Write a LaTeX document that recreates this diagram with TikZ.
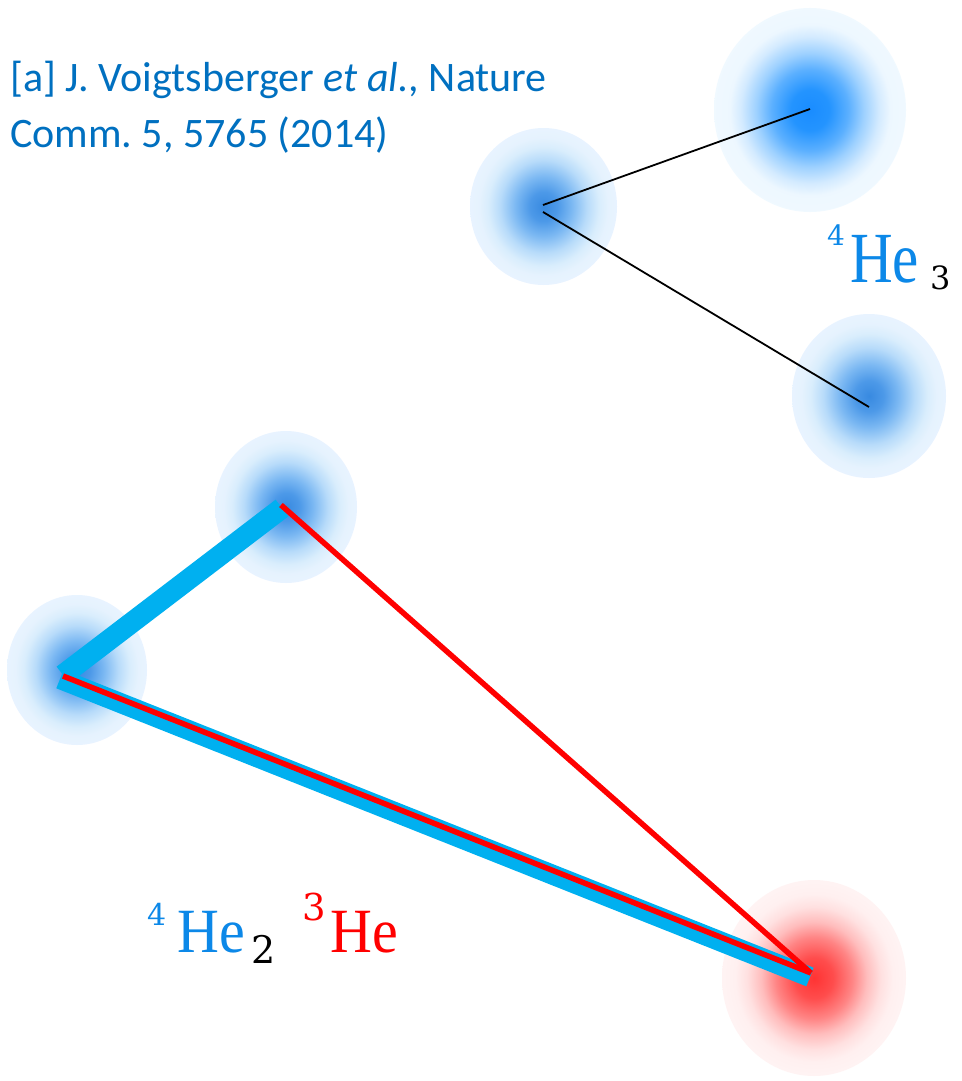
\documentclass[tikz,border=0pt]{standalone}
\usepackage{fontspec}
\setmainfont{Carlito}
\newfontfamily\labelfont[FakeStretch=0.82]{Liberation Serif}
\newfontfamily\labelfontb[FakeStretch=0.92]{Liberation Serif}
\newfontfamily\digitfont{DejaVu Serif}
\usetikzlibrary{shapes.geometric}
\definecolor{citeblue}{RGB}{0,112,192}
\definecolor{heblue}{RGB}{12,136,232}
\definecolor{barblue}{RGB}{0,176,240}
\definecolor{bondred}{RGB}{255,0,0}
\pgfdeclareradialshading{atomstrong}{\pgfpoint{0bp}{0bp}}{rgb(0bp)=(0.1,0.55,1); rgb(5bp)=(0.14,0.58,1); rgb(10bp)=(0.36,0.69,1); rgb(14bp)=(0.62,0.82,1); rgb(18bp)=(0.83,0.92,1); rgb(21bp)=(0.93,0.97,1); rgb(25bp)=(0.94,0.975,1); rgb(50bp)=(0.94,0.975,1)}
\pgfdeclareradialshading{atomblue}{\pgfpoint{0bp}{0bp}}{rgb(0bp)=(0.22,0.54,0.88); rgb(4.7bp)=(0.3,0.6,0.91); rgb(9.5bp)=(0.48,0.72,0.95); rgb(14.8bp)=(0.72,0.86,0.98); rgb(18.9bp)=(0.85,0.93,0.99); rgb(22bp)=(0.9,0.95,0.995); rgb(25bp)=(0.91,0.955,1); rgb(50bp)=(0.91,0.955,1)}
\pgfdeclareradialshading{atomred}{\pgfpoint{0bp}{0bp}}{rgb(0bp)=(1,0.2,0.2); rgb(5.2bp)=(1,0.3,0.3); rgb(10.4bp)=(1,0.52,0.52); rgb(14.3bp)=(1,0.74,0.74); rgb(18.2bp)=(1,0.88,0.88); rgb(21.4bp)=(1,0.94,0.94); rgb(25bp)=(1,0.955,0.955); rgb(50bp)=(1,0.955,0.955)}
\frenchspacing
\begin{document}
\begin{tikzpicture}[x=1pt,y=-1pt,
  atom/.style={ellipse, inner sep=0pt, draw=none},
  thinbond/.style={line width=1.8pt, black},
  bluebar/.style={line width=21pt, barblue},
  redbond/.style={line width=5.5pt, bondred},
  txt/.style={inner sep=0pt, anchor=base west}]
\useasboundingbox (0,0) rectangle (961,1081);
\fill[white] (0,0) rectangle (961,1081);
% atoms
\node[atom, shading=atomstrong, minimum width=192pt, minimum height=204pt] (a1) at (810,110) {};
\node[atom, shading=atomblue, minimum width=147pt, minimum height=157pt] (a2) at (543.5,206.5) {};
\node[atom, shading=atomblue, minimum width=154pt, minimum height=164pt] (a3) at (869,396) {};
\node[atom, shading=atomblue, minimum width=142pt, minimum height=152pt] (b1) at (286,507) {};
\node[atom, shading=atomblue, minimum width=140pt, minimum height=150pt] (b2) at (77,670) {};
\node[atom, shading=atomred, minimum width=184pt, minimum height=196pt] (c) at (814,978) {};
% bond end points
\coordinate (a1e) at (810,109);
\coordinate (a2u) at (543,205);
\coordinate (a2l) at (543,212);
\coordinate (a3e) at (869,407);
\coordinate (b1e) at (282,508);
\coordinate (b2u) at (63,675);
\coordinate (b2l) at (60,679);
\coordinate (ce) at (810,977);
\coordinate (b1r) at (281,505);
\coordinate (b2r) at (63,676);
\coordinate (cr) at (811,973);
% bonds
\draw[thinbond] (a2u) -- (a1e);
\draw[thinbond] (a2l) -- (a3e);
\draw[bluebar] (b2u) -- (b1e);
\draw[bluebar, line width=20pt] (b2l) -- (ce);
\draw[redbond] (b1r) -- (cr);
\draw[redbond] (b2r) -- (cr);
% citation
\node[txt, text=citeblue, font=\fontsize{42}{50}\selectfont] (cite1) at (10,92) {[a] J. Voigtsberger \textit{et al.}, Nature};
\node[txt, text=citeblue, font=\fontsize{42}{50}\selectfont] (cite2) at (10,147) {Comm. 5, 5765 (2014)};
% label He3
\node[txt, text=heblue, font=\digitfont\fontsize{28}{28}\selectfont] (t4) at (827,245) {4};
\node[txt, text=heblue, font=\labelfont\fontsize{72}{72}\selectfont] (the) at (850,282) {He};
\node[txt, text=black, font=\digitfont\fontsize{32}{32}\selectfont] (t3) at (930,289) {3};
% label He2 He
\node[txt, text=heblue, font=\digitfont\fontsize{30}{30}\selectfont] (b4) at (147,925) {4};
\node[txt, text=heblue, font=\labelfontb\fontsize{63}{63}\selectfont] (bhe) at (177,952) {He};
\node[txt, text=black, font=\digitfont\fontsize{38}{38}\selectfont] (b2s) at (251,963) {2};
\node[txt, text=bondred, font=\digitfont\fontsize{37}{37}\selectfont] (r3) at (302,920) {3};
\node[txt, text=bondred, font=\labelfontb\fontsize{63}{63}\selectfont] (rhe) at (330,952) {He};
\end{tikzpicture}
\end{document}
